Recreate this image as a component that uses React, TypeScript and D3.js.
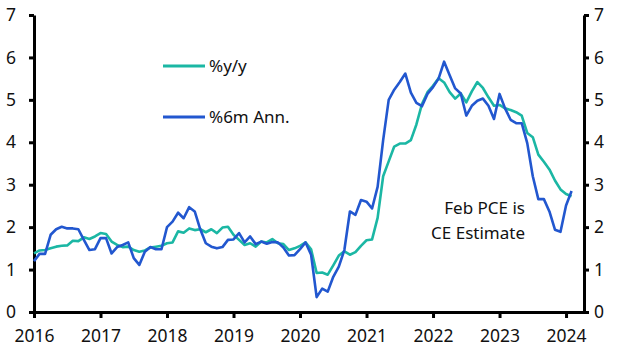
import React, { useEffect, useRef } from 'react';
import * as d3 from 'd3';

// monthly, Jan 2016 .. Feb 2024
const startYear = 2016;
const yoy = [
  1.38, 1.45, 1.46, 1.5, 1.54, 1.56, 1.57, 1.68, 1.67, 1.76, 1.72, 1.78,
  1.86, 1.84, 1.66, 1.58, 1.53, 1.54, 1.46, 1.42, 1.45, 1.52, 1.54, 1.56,
  1.62, 1.64, 1.9, 1.87, 1.97, 1.93, 1.95, 1.88, 1.95, 1.86, 1.99, 2.01,
  1.82, 1.7, 1.58, 1.62, 1.54, 1.66, 1.64, 1.72, 1.62, 1.6, 1.46, 1.5,
  1.56, 1.64, 1.48, 0.92, 0.93, 0.88, 1.1, 1.33, 1.43, 1.35, 1.41, 1.56,
  1.69, 1.71, 2.22, 3.2, 3.55, 3.9, 3.97, 3.97, 4.05, 4.42, 4.9, 5.18,
  5.33, 5.51, 5.41, 5.18, 5.03, 5.15, 4.94, 5.2, 5.42, 5.28, 5.06, 4.86,
  4.88, 4.8, 4.76, 4.71, 4.63, 4.22, 4.12, 3.71, 3.54, 3.36, 3.1, 2.89,
  2.78, 2.73,
];
const ann6m = [
  1.2, 1.37, 1.37, 1.82, 1.95, 2.01, 1.97, 1.97, 1.95, 1.7, 1.46, 1.48,
  1.74, 1.74, 1.38, 1.53, 1.58, 1.64, 1.27, 1.11, 1.42, 1.53, 1.48, 1.48,
  2.0, 2.13, 2.34, 2.21, 2.47, 2.37, 1.95, 1.62, 1.54, 1.5, 1.53, 1.7,
  1.71, 1.86, 1.64, 1.78, 1.6, 1.66, 1.61, 1.65, 1.64, 1.52, 1.33, 1.34,
  1.48, 1.64, 1.35, 0.35, 0.55, 0.48, 0.83, 1.07, 1.46, 2.37, 2.29, 2.64,
  2.6, 2.44, 2.95, 4.05, 5.0, 5.24, 5.42, 5.62, 5.17, 4.93, 4.85, 5.14,
  5.3, 5.5, 5.9, 5.58, 5.27, 5.15, 4.63, 4.86, 4.98, 5.03, 4.86, 4.55,
  5.14, 4.8, 4.53, 4.45, 4.45, 3.98, 3.2, 2.66, 2.66, 2.37, 1.94, 1.89,
  2.51, 2.85,
];
const yearTicks = [2016, 2017, 2018, 2019, 2020, 2021, 2022, 2023, 2024];
const valueTicks = [0, 1, 2, 3, 4, 5, 6, 7];
const seriesNames = ['%y/y', '%6m Ann.'];
const noteLines = ['Feb PCE is', 'CE Estimate'];

const TEAL = '#1bb7a4';
const BLUE = '#2257cf';
const FONT = '"Noto Sans", sans-serif';

export default function App() {
  const svgRef = useRef<SVGSVGElement | null>(null);

  useEffect(() => {
    if (!svgRef.current) return;
    const left = 34, right = 584, top = 15, bottom = 312;

    const svg = d3.select(svgRef.current);
    svg.selectAll('*').remove();

    const x = d3.scaleLinear().domain([2016, 2024.27]).range([left, right]);
    const y = d3.scaleLinear().domain([0, 7]).range([bottom, top]);

    const styleAxis = (g: any) => {
      g.select('.domain').attr('stroke', '#000').attr('stroke-width', 3);
      g.selectAll('.tick line').attr('stroke', '#000').attr('stroke-width', 3);
      g.selectAll('.tick text')
        .attr('fill', '#111')
        .attr('font-family', FONT)
        .attr('font-size', '17.5px');
    };

    // left axis
    svg.append('g')
      .attr('transform', `translate(${left},0)`)
      .call(d3.axisLeft(y).tickValues(valueTicks).tickFormat(d3.format('d')).tickSize(5).tickSizeOuter(0).tickPadding(13))
      .call(styleAxis);

    // right axis
    svg.append('g')
      .attr('transform', `translate(${right},0)`)
      .call(d3.axisRight(y).tickValues(valueTicks).tickFormat(d3.format('d')).tickSize(5).tickSizeOuter(0).tickPadding(5))
      .call(styleAxis);

    // x axis
    svg.append('g')
      .attr('transform', `translate(0,${bottom})`)
      .call(d3.axisBottom(x).tickValues(yearTicks).tickFormat(d3.format('d')).tickSize(6).tickSizeOuter(0).tickPadding(12))
      .call(styleAxis);

    const line = d3.line<number>()
      .x((_, i) => x(startYear + i / 12))
      .y((d) => y(d));

    svg.append('path')
      .datum(yoy)
      .attr('fill', 'none')
      .attr('stroke', TEAL)
      .attr('stroke-width', 2.6)
      .attr('stroke-linejoin', 'round')
      .attr('d', line);

    svg.append('path')
      .datum(ann6m)
      .attr('fill', 'none')
      .attr('stroke', BLUE)
      .attr('stroke-width', 2.6)
      .attr('stroke-linejoin', 'round')
      .attr('d', line);

    // legend
    const legend = svg.append('g');
    [TEAL, BLUE].forEach((c, i) => {
      const ly = 66 + i * 51;
      legend.append('line')
        .attr('x1', 163).attr('x2', 205)
        .attr('y1', ly).attr('y2', ly)
        .attr('stroke', c).attr('stroke-width', 3);
      legend.append('text')
        .attr('x', 209).attr('y', ly)
        .attr('dy', '0.35em')
        .attr('font-family', FONT)
        .attr('font-size', '17px')
        .attr('fill', '#111')
        .text(seriesNames[i]);
    });

    // note
    noteLines.forEach((t, i) => {
      svg.append('text')
        .attr('x', 525).attr('y', 208 + i * 25)
        .attr('dy', '0.35em')
        .attr('text-anchor', 'end')
        .attr('font-family', FONT)
        .attr('font-size', '17px')
        .attr('fill', '#111')
        .text(t);
    });
  }, []);

  return (
    <svg
      ref={svgRef}
      width={630}
      height={363}
      style={{ position: 'absolute', left: 0, top: 0, background: '#fff' }}
    />
  );
}
